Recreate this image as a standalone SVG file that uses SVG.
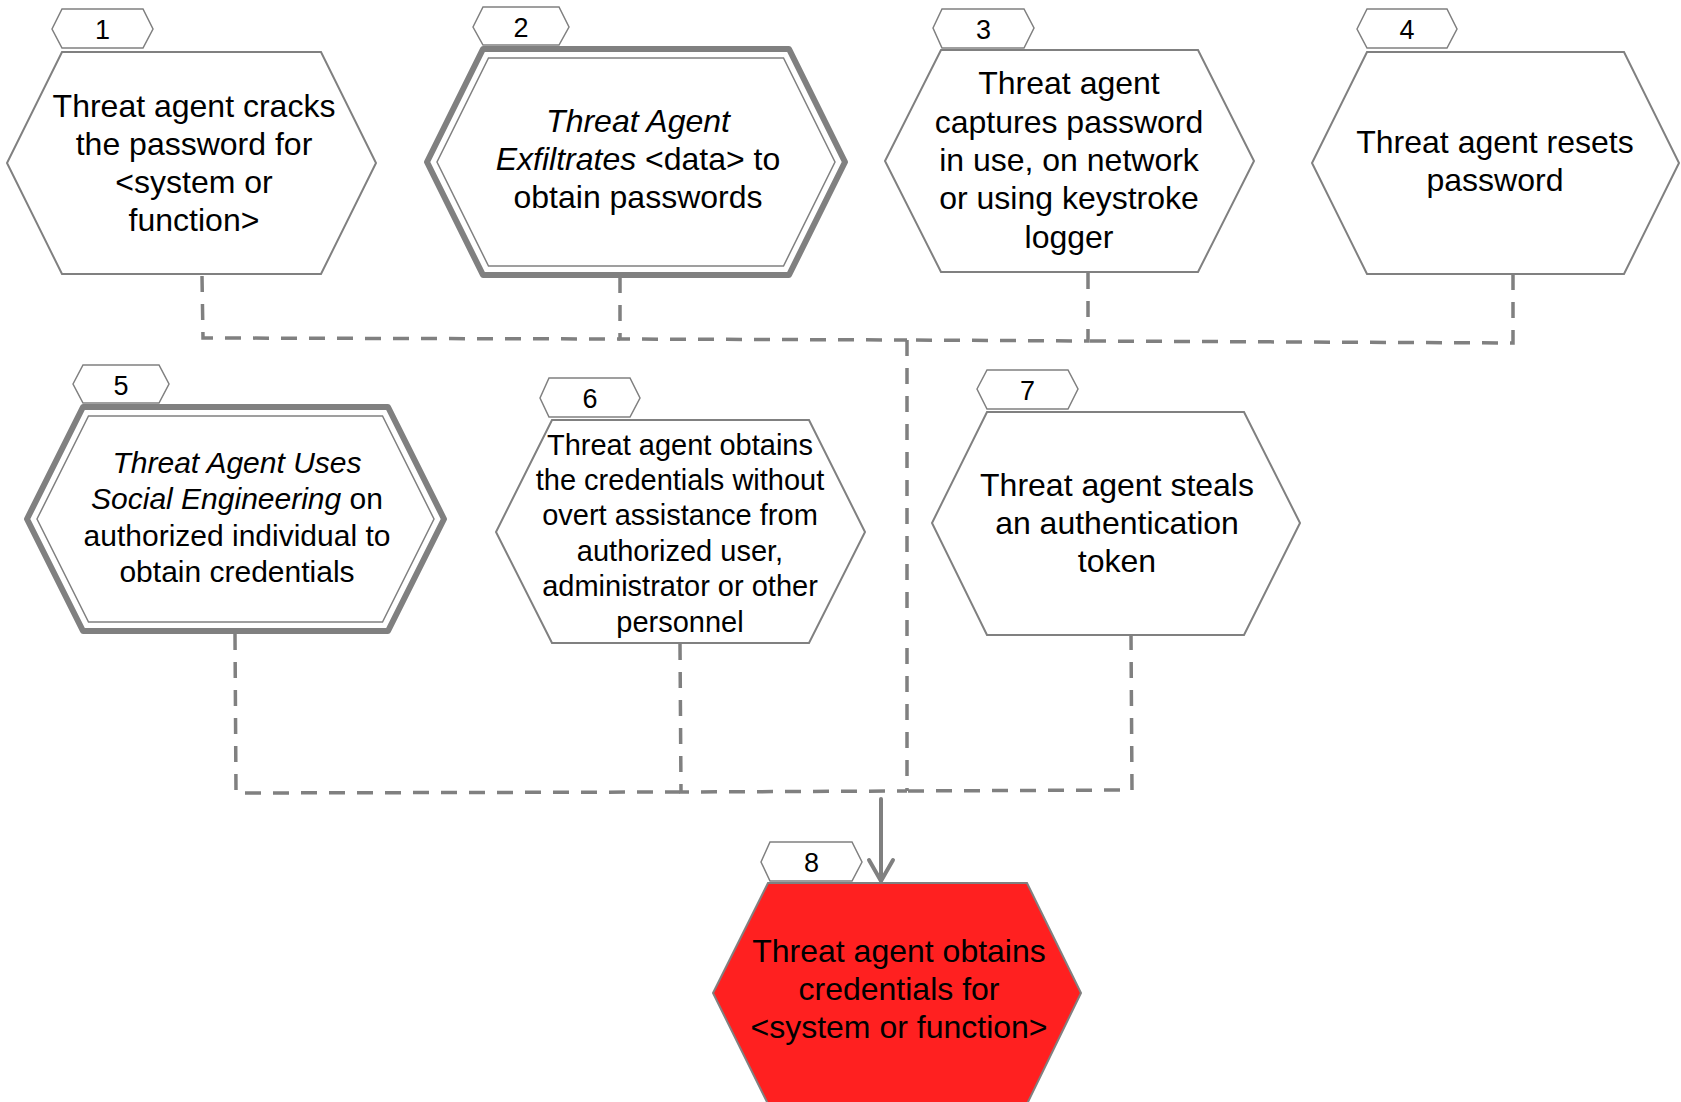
<svg xmlns="http://www.w3.org/2000/svg" width="1681" height="1102" viewBox="0 0 1681 1102">
<style>
  .hex { fill: #ffffff; stroke: #808080; stroke-width: 2; stroke-linejoin: miter; }
  .lbl { fill: #ffffff; stroke: #808080; stroke-width: 1.5; }
  .outer { fill: #ffffff; stroke: #808080; stroke-width: 6; stroke-linejoin: round; }
  .inner { fill: none; stroke: #808080; stroke-width: 1.5; }
  .red { fill: #ff2020; stroke: #808080; stroke-width: 2; }
  .t { font-family: "Liberation Sans", Arial, sans-serif; font-size: 32px; fill: #000000; text-anchor: middle; }
  .t30 { font-size: 30px; }
  .t29 { font-size: 29px; }
  .n { font-family: "Liberation Sans", Arial, sans-serif; font-size: 27px; fill: #000000; text-anchor: middle; }
  .i { font-style: italic; }
  .dash { fill: none; stroke: #808080; stroke-width: 3.5; stroke-dasharray: 16 12; }
  .solid { fill: none; stroke: #808080; stroke-width: 4; stroke-linecap: round; stroke-linejoin: round; }
</style>
<rect x="0" y="0" width="1681" height="1102" fill="#ffffff"/>

<g id="connectors">
  <path class="dash" d="M202,276 L203,338 L620,339"/>
  <path class="dash" d="M620,277 L620,339 L907,340"/>
  <path class="dash" d="M1088,273 L1088,341 L907,340"/>
  <path class="dash" d="M1513,274 L1513,343 L1088,341"/>
  <path class="dash" d="M907,340 L907,791"/>
  <path class="dash" d="M235,634 L236,793 L680,792"/>
  <path class="dash" d="M680,644 L681,792 L907,791"/>
  <path class="dash" d="M1131,634 L1132,790 L907,791"/>
  <path class="solid" d="M881,799 L881,880"/>
  <path class="solid" d="M869,860 L881,881 L893,860"/>
</g>

<g id="node1">
  <polygon class="hex" points="62,52 321,52 376,163 321,274 62,274 7,163"/>
  <text class="t" x="194"><tspan x="194" y="117">Threat agent cracks</tspan><tspan x="194" y="155">the password for</tspan><tspan x="194" y="193">&lt;system or</tspan><tspan x="194" y="231">function&gt;</tspan></text>
  <polygon class="lbl" points="52,29 62,9 143,9 153,29 143,48 62,48"/>
  <text class="n" x="102.5" y="39">1</text>
</g>

<g id="node2">
  <polygon class="outer" points="483,49 789,49 845,162 789,275 483,275 427,162"/>
  <polygon class="inner" points="488.5,58 783.5,58 835,162 783.5,266 488.5,266 437,162"/>
  <text class="t" x="638"><tspan class="i" x="638" y="132">Threat Agent</tspan><tspan x="638" y="170"><tspan class="i">Exfiltrates</tspan> &lt;data&gt; to</tspan><tspan x="638" y="208">obtain passwords</tspan></text>
  <polygon class="lbl" points="473,27 483,7 559,7 569,27 559,45 483,45"/>
  <text class="n" x="521" y="37">2</text>
</g>

<g id="node3">
  <polygon class="hex" points="941,50 1198,50 1254,161 1198,272 941,272 885,161"/>
  <text class="t" x="1069"><tspan x="1069" y="94">Threat agent</tspan><tspan x="1069" y="133">captures password</tspan><tspan x="1069" y="171">in use, on network</tspan><tspan x="1069" y="209">or using keystroke</tspan><tspan x="1069" y="248">logger</tspan></text>
  <polygon class="lbl" points="933,28 942,9 1024,9 1034,28 1024,48 942,48"/>
  <text class="n" x="983.5" y="39">3</text>
</g>

<g id="node4">
  <polygon class="hex" points="1367,52 1624,52 1679,163 1624,274 1367,274 1312,163"/>
  <text class="t" x="1495"><tspan x="1495" y="153">Threat agent resets</tspan><tspan x="1495" y="191">password</tspan></text>
  <polygon class="lbl" points="1357,29 1367,9 1447,9 1457,29 1447,48 1367,48"/>
  <text class="n" x="1407" y="39">4</text>
</g>

<g id="node5">
  <polygon class="outer" points="83,407 388,407 444,519 388,631 83,631 27,519"/>
  <polygon class="inner" points="88.5,416 382.5,416 434,519 382.5,622 88.5,622 37,519"/>
  <text class="t t30" x="237"><tspan class="i" x="237" y="473">Threat Agent Uses</tspan><tspan x="237" y="509"><tspan class="i">Social Engineering</tspan> on</tspan><tspan x="237" y="546">authorized individual to</tspan><tspan x="237" y="582">obtain credentials</tspan></text>
  <polygon class="lbl" points="73,384 83,365 159,365 169,384 159,403 83,403"/>
  <text class="n" x="121" y="395">5</text>
</g>

<g id="node6">
  <polygon class="hex" points="552,420 809,420 865,532 809,643 552,643 496,532"/>
  <text class="t t29" x="680"><tspan x="680" y="455">Threat agent obtains</tspan><tspan x="680" y="490">the credentials without</tspan><tspan x="680" y="525">overt assistance from</tspan><tspan x="680" y="561">authorized user,</tspan><tspan x="680" y="596">administrator or other</tspan><tspan x="680" y="632">personnel</tspan></text>
  <polygon class="lbl" points="540,398 549,378 630,378 640,398 630,417 549,417"/>
  <text class="n" x="590" y="408">6</text>
</g>

<g id="node7">
  <polygon class="hex" points="987,412 1244,412 1300,523 1244,635 987,635 932,523"/>
  <text class="t" x="1117"><tspan x="1117" y="496">Threat agent steals</tspan><tspan x="1117" y="534">an authentication</tspan><tspan x="1117" y="572">token</tspan></text>
  <polygon class="lbl" points="977,389 987,370 1068,370 1078,389 1068,409 987,409"/>
  <text class="n" x="1027.5" y="400">7</text>
</g>

<g id="node8">
  <polygon class="red" points="768,883 1027,883 1081,993 1027,1104 768,1104 713,993"/>
  <text class="t" x="899"><tspan x="899" y="962">Threat agent obtains</tspan><tspan x="899" y="1000">credentials for</tspan><tspan x="899" y="1038">&lt;system or function&gt;</tspan></text>
  <polygon class="lbl" points="761,862 770,842 852,842 862,862 852,881 770,881"/>
  <text class="n" x="811.5" y="872">8</text>
</g>
</svg>
